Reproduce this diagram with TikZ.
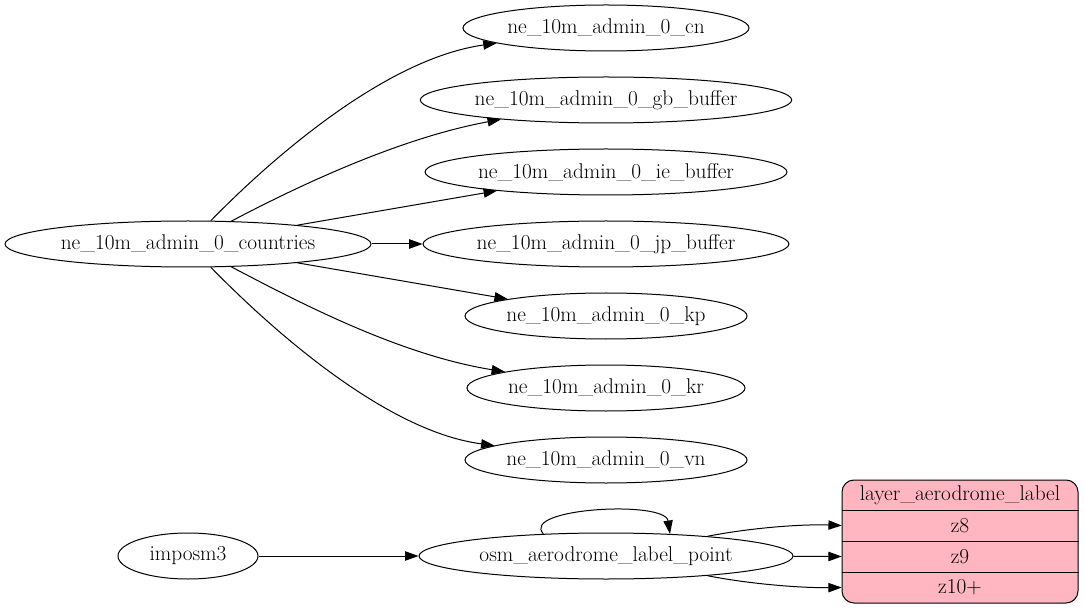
\documentclass[tikz,border=0pt]{standalone}
\usepackage{fontspec}
\usetikzlibrary{shapes.geometric,arrows.meta}
\definecolor{tablepink}{HTML}{FFB6C1}
\begin{document}
\begin{tikzpicture}[x=0.75pt,y=-0.75pt,
  font=\fontsize{16}{19}\selectfont,
  every node/.style={inner sep=0pt},
  ell/.style={draw, ellipse, line width=0.75pt, minimum height=34.5pt},
  edge/.style={draw, line width=0.75pt, -{Triangle[length=10pt,width=7pt]}},
  tablerow/.style={minimum width=177pt, minimum height=23pt}
]
\useasboundingbox (0,0) rectangle (1084,609);
\node[ell, minimum width=274.5pt] (countries) at (188,244) {ne\_10m\_admin\_0\_countries};
\node[ell, minimum width=214.5pt] (cn) at (606,28) {ne\_10m\_admin\_0\_cn};
\node[ell, minimum width=276pt] (gb) at (606,100) {ne\_10m\_admin\_0\_gb\_buffer};
\node[ell, minimum width=270pt] (ie) at (606,172) {ne\_10m\_admin\_0\_ie\_buffer};
\node[ell, minimum width=270pt] (jp) at (606,244) {ne\_10m\_admin\_0\_jp\_buffer};
\node[ell, minimum width=211.5pt] (kp) at (606,316) {ne\_10m\_admin\_0\_kp};
\node[ell, minimum width=208.5pt] (kr) at (606,388) {ne\_10m\_admin\_0\_kr};
\node[ell, minimum width=211.5pt] (vn) at (606,460) {ne\_10m\_admin\_0\_vn};
\node[ell, minimum width=105pt] (imposm) at (188,556) {imposm3};
\node[ell, minimum width=280.5pt] (osm) at (606,556) {osm\_aerodrome\_label\_point};

% table
\node[draw, fill=tablepink, rounded corners=9pt, line width=0.75pt,
      minimum width=177pt, minimum height=92.25pt] (table) at (960,541.5) {};
\node[tablerow] (head) at (960,495) {layer\_aerodrome\_label};
\node[tablerow] (z8) at (960,525.5) {z8};
\node[tablerow] (z9) at (960,556.5) {z9};
\node[tablerow] (z10) at (960,587.5) {z10+};
\draw[line width=0.75pt] (table.west |- 0,510) -- (table.east |- 0,510);
\draw[line width=0.75pt] (table.west |- 0,541) -- (table.east |- 0,541);
\draw[line width=0.75pt] (table.west |- 0,572) -- (table.east |- 0,572);

% edges
\path[edge] (countries) .. controls (280,150) and (390,58) .. (cn);
\path[edge] (countries) .. controls (300,185) and (400,138) .. (gb);
\path[edge] (countries) -- (ie);
\path[edge] (countries) -- (jp);
\path[edge] (countries) -- (kp);
\path[edge] (countries) .. controls (300,303) and (400,355) .. (kr);
\path[edge] (countries) .. controls (280,338) and (390,432) .. (vn);
\path[edge] (imposm) -- (osm);
\path[edge] ([xshift=-47pt,yshift=-1pt]osm.north) .. controls (520,508) and (665,500) .. ([xshift=48pt,yshift=-1pt]osm.north);
\path[edge] (osm) .. controls (750,528) and (800,524) .. (z8.west);
\path[edge] (osm) -- (z9.west);
\path[edge] (osm) .. controls (750,584) and (800,588) .. (z10.west);
\end{tikzpicture}
\end{document}
